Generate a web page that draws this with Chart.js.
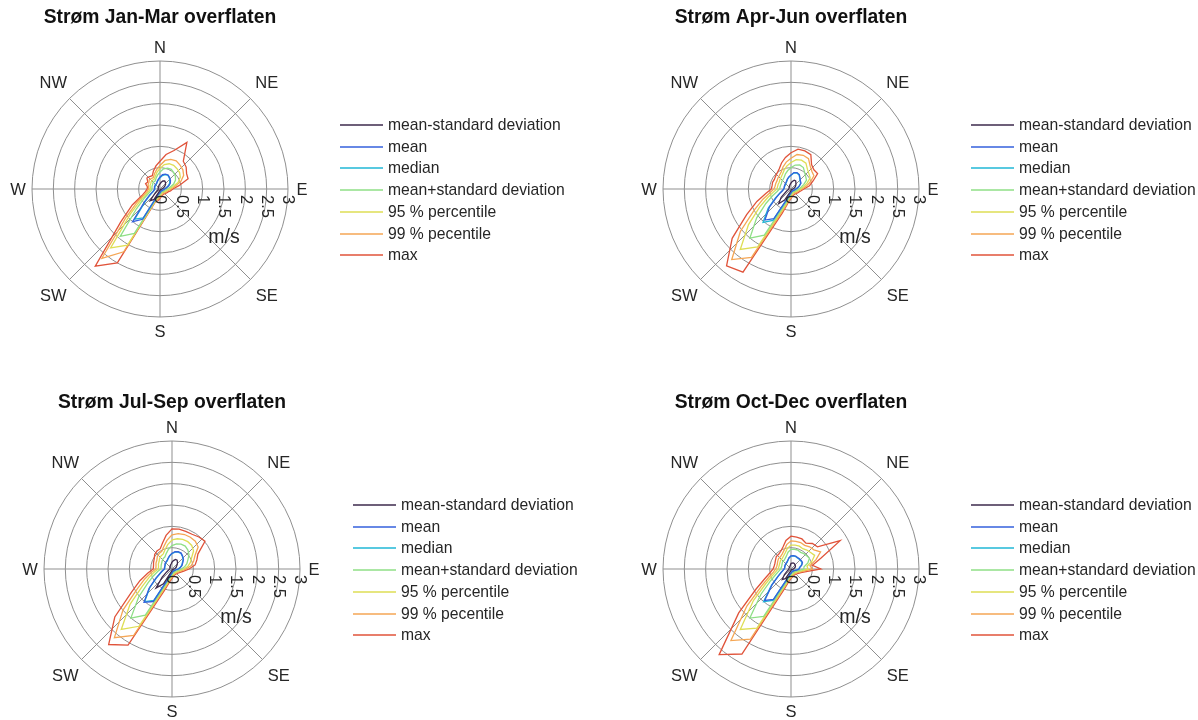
<!DOCTYPE html>
<html>
<head>
<meta charset="utf-8">
<script src="https://cdn.jsdelivr.net/npm/chart.js@4.4.1/dist/chart.umd.min.js"></script>
<style>
  html, body { margin: 0; padding: 0; background: #ffffff; }
  #wrap { position: relative; width: 1198px; height: 720px; overflow: hidden; background: #ffffff; }
  #wrap canvas { position: absolute; }
</style>
</head>
<body>
<div id="wrap">
  <canvas id="p0" width="599" height="360" style="left:0px;top:0px"></canvas>
  <canvas id="p1" width="599" height="360" style="left:599px;top:0px"></canvas>
  <canvas id="p2" width="599" height="360" style="left:0px;top:360px"></canvas>
  <canvas id="p3" width="599" height="360" style="left:599px;top:360px"></canvas>
</div>
<script>
// Direction bins (degrees, clockwise from north)
const directions = [0, 10, 20, 30, 40, 50, 60, 70, 80, 90, 100, 110, 120, 130, 140, 150, 160, 170,
                    180, 190, 200, 210, 220, 230, 240, 250, 260, 270, 280, 290, 300, 310, 320, 330, 340, 350];

const compassLabels = ['N', 'NE', 'E', 'SE', 'S', 'SW', 'W', 'NW'];
const speedTicks = [0, 0.5, 1, 1.5, 2, 2.5, 3];
const speedTickLabels = ['0', '0.5', '1', '1.5', '2', '2.5', '3'];
const speedUnit = 'm/s';

const seriesNames = ['mean-standard deviation', 'mean', 'median', 'mean+standard deviation',
                     '95 % percentile', '99 % pecentile', 'max'];
const seriesColors = ['#3d2a4c', '#3461dc', '#21b7d6', '#8fdf86', '#dede55', '#f5a654', '#e0533a'];

const panelTitles = ['Strøm Jan-Mar overflaten', 'Strøm Apr-Jun overflaten',
                     'Strøm Jul-Sep overflaten', 'Strøm Oct-Dec overflaten'];

// Current speed statistics per direction bin (m/s)
const janMarMeanMinusStd = [0.12,0.16,0.20,0.22,0.20,0.17,0.13,0.09,0.06,0.04,0.03,0.03,0.02,0.02,0.02,0.02,0.02,0.03,0.03,0.04,0.07,0.28,0.36,0.15,0.08,0.05,0.04,0.04,0.04,0.05,0.05,0.05,0.06,0.06,0.08,0.10];
const janMarMean         = [0.28,0.34,0.37,0.38,0.35,0.32,0.28,0.22,0.15,0.11,0.09,0.07,0.06,0.06,0.05,0.05,0.06,0.07,0.09,0.11,0.16,0.82,1.00,0.48,0.28,0.18,0.14,0.13,0.13,0.14,0.14,0.15,0.15,0.16,0.19,0.23];
const janMarMedian       = [0.26,0.32,0.36,0.37,0.34,0.30,0.26,0.20,0.14,0.10,0.08,0.07,0.06,0.06,0.05,0.05,0.06,0.06,0.08,0.10,0.14,0.78,0.92,0.45,0.26,0.17,0.13,0.12,0.12,0.13,0.13,0.14,0.14,0.15,0.18,0.22];
const janMarMeanPlusStd  = [0.40,0.48,0.52,0.53,0.50,0.47,0.42,0.34,0.24,0.17,0.13,0.11,0.10,0.09,0.08,0.08,0.09,0.10,0.12,0.16,0.22,1.20,1.45,0.72,0.42,0.28,0.21,0.19,0.19,0.20,0.20,0.22,0.22,0.22,0.27,0.33];
const janMarP95          = [0.48,0.58,0.63,0.64,0.62,0.60,0.55,0.45,0.30,0.22,0.17,0.14,0.12,0.11,0.10,0.10,0.11,0.13,0.16,0.20,0.26,1.52,1.80,0.90,0.52,0.34,0.26,0.23,0.23,0.25,0.25,0.27,0.27,0.27,0.32,0.40];
const janMarP99          = [0.55,0.68,0.74,0.76,0.73,0.70,0.64,0.52,0.36,0.26,0.20,0.17,0.15,0.14,0.13,0.13,0.14,0.16,0.19,0.24,0.30,1.70,2.12,1.05,0.62,0.40,0.30,0.27,0.27,0.30,0.30,0.33,0.32,0.31,0.38,0.46];
const janMarMax          = [0.65,0.82,0.96,1.26,0.85,0.80,0.72,0.70,0.45,0.30,0.25,0.20,0.18,0.16,0.15,0.15,0.16,0.18,0.22,0.28,0.32,2.00,2.36,1.20,0.75,0.45,0.35,0.30,0.30,0.36,0.33,0.40,0.38,0.36,0.45,0.55];

const aprJunMeanMinusStd = [0.14,0.18,0.22,0.22,0.18,0.15,0.12,0.09,0.06,0.04,0.03,0.03,0.02,0.02,0.02,0.02,0.02,0.03,0.03,0.05,0.09,0.30,0.45,0.30,0.14,0.09,0.06,0.05,0.05,0.05,0.05,0.06,0.06,0.07,0.09,0.11];
const aprJunMean         = [0.33,0.39,0.41,0.39,0.33,0.29,0.27,0.21,0.16,0.12,0.09,0.08,0.07,0.06,0.06,0.06,0.06,0.07,0.09,0.12,0.23,0.80,0.95,0.66,0.40,0.27,0.20,0.17,0.16,0.17,0.17,0.18,0.19,0.21,0.25,0.29];
const aprJunMedian       = [0.32,0.38,0.40,0.38,0.32,0.28,0.26,0.20,0.15,0.11,0.09,0.07,0.06,0.06,0.05,0.05,0.06,0.07,0.08,0.11,0.22,0.85,1.02,0.70,0.42,0.28,0.20,0.17,0.16,0.16,0.16,0.17,0.18,0.20,0.24,0.28];
const aprJunMeanPlusStd  = [0.50,0.57,0.60,0.58,0.50,0.45,0.42,0.32,0.24,0.18,0.14,0.11,0.10,0.09,0.08,0.08,0.09,0.10,0.13,0.18,0.34,1.25,1.50,1.05,0.68,0.46,0.33,0.27,0.26,0.26,0.26,0.28,0.29,0.32,0.38,0.44];
const aprJunP95          = [0.62,0.70,0.72,0.70,0.60,0.55,0.52,0.40,0.30,0.22,0.17,0.14,0.12,0.11,0.10,0.10,0.11,0.13,0.16,0.22,0.42,1.57,1.85,1.30,0.85,0.58,0.42,0.33,0.32,0.32,0.32,0.34,0.36,0.40,0.47,0.55];
const aprJunP99          = [0.72,0.82,0.84,0.82,0.70,0.64,0.62,0.48,0.36,0.26,0.20,0.17,0.15,0.14,0.13,0.13,0.14,0.16,0.20,0.27,0.50,1.85,2.16,1.55,1.00,0.70,0.50,0.40,0.38,0.38,0.38,0.40,0.42,0.46,0.55,0.64];
const aprJunMax          = [0.85,0.95,0.95,0.93,0.75,0.70,0.72,0.55,0.44,0.30,0.24,0.20,0.18,0.16,0.15,0.15,0.16,0.18,0.22,0.30,0.60,2.25,2.35,1.80,1.20,0.85,0.60,0.46,0.45,0.46,0.45,0.47,0.50,0.55,0.65,0.75];

const julSepMeanMinusStd = [0.16,0.20,0.24,0.24,0.20,0.16,0.12,0.10,0.07,0.05,0.03,0.03,0.02,0.02,0.02,0.02,0.02,0.03,0.03,0.05,0.09,0.40,0.58,0.30,0.15,0.09,0.07,0.05,0.05,0.05,0.06,0.06,0.07,0.08,0.10,0.12];
const julSepMean         = [0.37,0.41,0.43,0.43,0.39,0.35,0.29,0.25,0.20,0.15,0.10,0.08,0.07,0.06,0.06,0.06,0.06,0.07,0.09,0.12,0.23,0.88,1.02,0.70,0.44,0.30,0.23,0.18,0.18,0.18,0.19,0.21,0.22,0.23,0.27,0.32];
const julSepMedian       = [0.36,0.40,0.42,0.42,0.38,0.34,0.28,0.24,0.19,0.14,0.10,0.08,0.07,0.06,0.06,0.06,0.06,0.07,0.09,0.12,0.22,0.85,1.00,0.68,0.42,0.29,0.22,0.17,0.17,0.18,0.18,0.20,0.21,0.22,0.26,0.31];
const julSepMeanPlusStd  = [0.55,0.60,0.62,0.62,0.58,0.52,0.43,0.37,0.30,0.22,0.15,0.12,0.10,0.09,0.09,0.09,0.09,0.10,0.13,0.18,0.33,1.25,1.50,1.02,0.65,0.46,0.34,0.26,0.26,0.27,0.28,0.30,0.32,0.33,0.39,0.47];
const julSepP95          = [0.68,0.72,0.74,0.74,0.72,0.66,0.53,0.46,0.38,0.28,0.19,0.15,0.13,0.12,0.11,0.11,0.12,0.13,0.16,0.22,0.40,1.55,1.85,1.28,0.80,0.57,0.42,0.32,0.32,0.34,0.35,0.38,0.40,0.41,0.48,0.58];
const julSepP99          = [0.80,0.84,0.86,0.86,0.85,0.80,0.62,0.54,0.46,0.33,0.23,0.18,0.15,0.14,0.13,0.13,0.14,0.16,0.19,0.26,0.46,1.80,2.10,1.50,0.95,0.68,0.50,0.38,0.38,0.40,0.41,0.45,0.47,0.48,0.56,0.68];
const julSepMax          = [0.94,0.95,0.94,0.94,0.98,1.01,0.70,0.62,0.55,0.40,0.28,0.22,0.18,0.16,0.15,0.15,0.16,0.18,0.22,0.30,0.55,2.06,2.31,1.75,1.10,0.80,0.58,0.44,0.44,0.46,0.48,0.53,0.55,0.55,0.65,0.80];

const octDecMeanMinusStd = [0.13,0.14,0.15,0.15,0.14,0.13,0.12,0.10,0.07,0.06,0.04,0.03,0.02,0.02,0.02,0.02,0.02,0.03,0.03,0.05,0.08,0.26,0.32,0.20,0.11,0.07,0.05,0.05,0.05,0.05,0.05,0.05,0.05,0.06,0.07,0.09];
const octDecMean         = [0.31,0.32,0.32,0.31,0.31,0.31,0.31,0.27,0.21,0.19,0.14,0.10,0.08,0.07,0.07,0.07,0.07,0.08,0.10,0.12,0.23,0.82,0.96,0.58,0.35,0.25,0.19,0.16,0.15,0.16,0.16,0.17,0.18,0.19,0.22,0.27];
const octDecMedian       = [0.30,0.31,0.31,0.30,0.30,0.30,0.30,0.26,0.20,0.18,0.13,0.09,0.07,0.07,0.06,0.06,0.07,0.07,0.09,0.12,0.22,0.85,1.00,0.60,0.36,0.25,0.19,0.16,0.15,0.15,0.16,0.17,0.17,0.18,0.21,0.26];
const octDecMeanPlusStd  = [0.46,0.47,0.47,0.45,0.47,0.48,0.50,0.42,0.31,0.30,0.20,0.14,0.11,0.10,0.10,0.10,0.10,0.11,0.14,0.18,0.33,1.28,1.50,0.92,0.55,0.38,0.29,0.24,0.23,0.23,0.24,0.26,0.26,0.28,0.32,0.40];
const octDecP95          = [0.56,0.57,0.57,0.55,0.58,0.60,0.64,0.52,0.38,0.40,0.25,0.18,0.14,0.13,0.12,0.12,0.13,0.14,0.17,0.22,0.40,1.60,1.85,1.15,0.68,0.47,0.36,0.30,0.29,0.29,0.30,0.32,0.32,0.35,0.40,0.49];
const octDecP99          = [0.66,0.66,0.66,0.64,0.68,0.70,0.80,0.62,0.45,0.50,0.30,0.21,0.17,0.15,0.14,0.14,0.15,0.17,0.20,0.26,0.46,1.90,2.19,1.35,0.80,0.55,0.42,0.36,0.34,0.34,0.36,0.38,0.38,0.41,0.47,0.58];
const octDecMax          = [0.77,0.76,0.75,0.70,0.78,0.81,1.33,0.75,0.51,0.70,0.36,0.25,0.20,0.18,0.16,0.16,0.17,0.19,0.22,0.30,0.55,2.30,2.62,1.60,0.95,0.65,0.50,0.42,0.40,0.40,0.42,0.45,0.45,0.48,0.55,0.68];

const panelSeries = [
  [janMarMeanMinusStd, janMarMean, janMarMedian, janMarMeanPlusStd, janMarP95, janMarP99, janMarMax],
  [aprJunMeanMinusStd, aprJunMean, aprJunMedian, aprJunMeanPlusStd, aprJunP95, aprJunP99, aprJunMax],
  [julSepMeanMinusStd, julSepMean, julSepMedian, julSepMeanPlusStd, julSepP95, julSepP99, julSepMax],
  [octDecMeanMinusStd, octDecMean, octDecMedian, octDecMeanPlusStd, octDecP95, octDecP99, octDecMax]
];

// Placement of each panel inside its canvas
const panelLayout = [
  { pad: { left: 32, top: 61, right: 311, bottom: 43 }, titleY: 18, legendX: 340, legendY: 125 },
  { pad: { left: 64, top: 61, right: 279, bottom: 43 }, titleY: 18, legendX: 372, legendY: 125 },
  { pad: { left: 44, top: 81, right: 299, bottom: 23 }, titleY: 43, legendX: 353, legendY: 145 },
  { pad: { left: 64, top: 81, right: 279, bottom: 23 }, titleY: 43, legendX: 372, legendY: 145 }
];

const FONT = "'Liberation Sans', Arial, Helvetica, sans-serif";
const TEXT_COLOR = '#262626';
const GRID_COLOR = '#8f8f8f';

// Compass spokes, direction labels, speed tick labels, title and legend
const compassPlugin = {
  id: 'compassDecor',
  beforeDatasetsDraw(chart) {
    const r = chart.scales.r;
    const ctx = chart.ctx;
    const step = 360 / chart.data.labels.length;
    ctx.save();
    ctx.strokeStyle = GRID_COLOR;
    ctx.lineWidth = 1;
    for (let deg = 0; deg < 180; deg += 45) {
      const a = r.getPointPosition(deg / step, r.drawingArea);
      const b = r.getPointPosition((deg + 180) / step, r.drawingArea);
      ctx.beginPath();
      ctx.moveTo(a.x, a.y);
      ctx.lineTo(b.x, b.y);
      ctx.stroke();
    }
    ctx.restore();
  },
  afterDraw(chart, args, opts) {
    const r = chart.scales.r;
    const ctx = chart.ctx;
    const step = 360 / chart.data.labels.length;
    ctx.save();
    ctx.fillStyle = TEXT_COLOR;

    // direction labels
    ctx.font = '16.5px ' + FONT;
    ctx.textAlign = 'center';
    ctx.textBaseline = 'middle';
    compassLabels.forEach((lab, k) => {
      const deg = k * 45;
      const extra = (k % 2 === 0) ? 14 : 23;
      const p = r.getPointPosition(deg / step, r.drawingArea + extra);
      ctx.fillText(lab, p.x, p.y + 1);
    });

    // speed tick labels along the east axis, rotated
    ctx.font = '16.5px ' + FONT;
    ctx.textAlign = 'left';
    ctx.textBaseline = 'middle';
    speedTicks.forEach((v, i) => {
      const d = r.getDistanceFromCenterForValue(v);
      ctx.save();
      ctx.translate(r.xCenter + d, r.yCenter + 6);
      ctx.rotate(Math.PI / 2);
      ctx.fillText(speedTickLabels[i], 0, 0);
      ctx.restore();
    });

    // unit label
    ctx.font = '19.5px ' + FONT;
    ctx.textAlign = 'center';
    ctx.fillText(speedUnit, r.xCenter + 64, r.yCenter + 49);

    // title
    ctx.font = 'bold 19.3px ' + FONT;
    ctx.fillStyle = '#111111';
    ctx.fillText(opts.title, r.xCenter, opts.titleY);

    // legend
    ctx.font = '15.7px ' + FONT;
    ctx.textAlign = 'left';
    ctx.fillStyle = TEXT_COLOR;
    seriesNames.forEach((name, i) => {
      const y = Math.round(opts.legendY + i * 21.7);
      ctx.strokeStyle = seriesColors[i];
      ctx.lineWidth = 1.4;
      ctx.beginPath();
      ctx.moveTo(opts.legendX, y);
      ctx.lineTo(opts.legendX + 43, y);
      ctx.stroke();
      ctx.fillText(name, opts.legendX + 48, y + 0.5);
    });
    ctx.restore();
  }
};

panelSeries.forEach((series, p) => {
  const lay = panelLayout[p];
  new Chart(document.getElementById('p' + p), {
    type: 'radar',
    data: {
      labels: directions.map(d => d + '°'),
      datasets: series.map((values, s) => ({
        label: seriesNames[s],
        data: values,
        borderColor: seriesColors[s],
        borderWidth: 1.3,
        fill: false,
        pointRadius: 0,
        pointHoverRadius: 0,
        tension: 0
      }))
    },
    options: {
      responsive: false,
      animation: false,
      events: [],
      layout: { padding: lay.pad },
      elements: { line: { borderJoinStyle: 'miter' } },
      scales: {
        r: {
          min: 0,
          max: 3,
          ticks: { display: false, stepSize: 0.5 },
          grid: { circular: true, color: GRID_COLOR, lineWidth: 1 },
          angleLines: { display: false },
          pointLabels: { display: false }
        }
      },
      plugins: {
        legend: { display: false },
        title: { display: false },
        tooltip: { enabled: false },
        compassDecor: { title: panelTitles[p], titleY: lay.titleY, legendX: lay.legendX, legendY: lay.legendY }
      }
    },
    plugins: [compassPlugin]
  });
});
</script>
</body>
</html>
